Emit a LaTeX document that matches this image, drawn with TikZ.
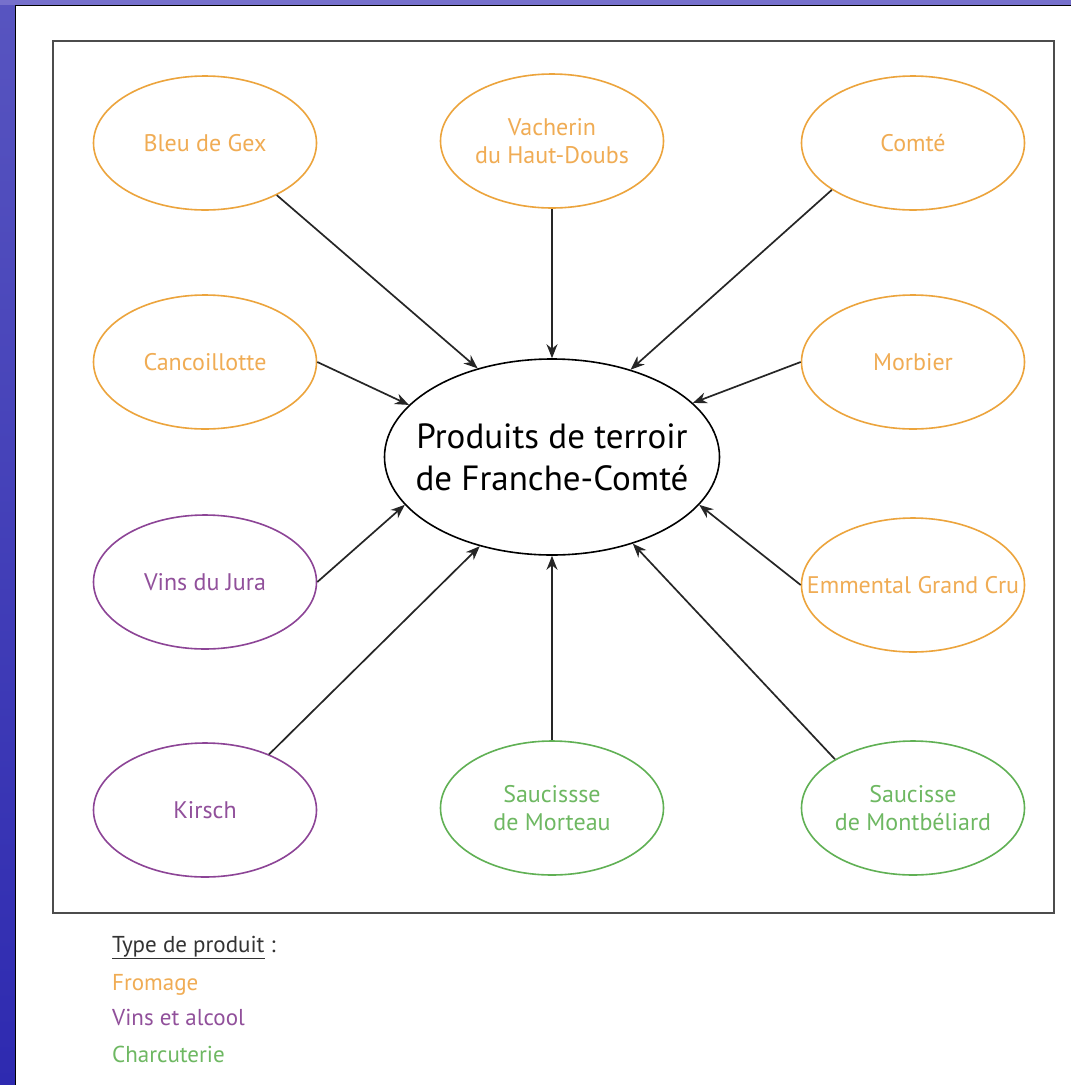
\documentclass[tikz,border=0pt]{standalone}
\usepackage{fontspec}
\setmainfont{PT Sans}
\usetikzlibrary{shapes.geometric,arrows.meta}
\definecolor{froline}{RGB}{236,164,60}
\definecolor{frotxt}{RGB}{240,172,84}
\definecolor{vinline}{RGB}{140,68,150}
\definecolor{vintxt}{RGB}{145,80,155}
\definecolor{chaline}{RGB}{96,176,84}
\definecolor{chatxt}{RGB}{110,184,98}
\definecolor{bgblue}{RGB}{46,42,176}
\definecolor{bgtop}{RGB}{118,112,204}
\tikzset{
  oval/.style={ellipse, minimum width=223pt, minimum height=134pt, inner sep=0pt, line width=1.6pt},
  froval/.style={oval, draw=froline},
  vinoval/.style={oval, draw=vinline},
  chaoval/.style={oval, draw=chaline},
  lab/.style={font=\fontsize{24}{28}\selectfont, align=center, inner sep=0pt},
  frolab/.style={lab, text=frotxt},
  vinlab/.style={lab, text=vintxt},
  chalab/.style={lab, text=chatxt},
  legend/.style={font=\fontsize{23}{26}\selectfont, anchor=base west, inner sep=0pt},
  arr/.style={-{Stealth[length=14pt,width=11pt]}, line width=1.7pt, draw=black!85},
}
\begin{document}
\begin{tikzpicture}[x=1pt,y=-1pt]
\useasboundingbox (0,0) rectangle (1071,1085);
% background
\shade[top color=bgblue!80!white, bottom color=bgblue] (0,0) rectangle (1071,1085);
\fill[bgtop] (0,0) rectangle (1071,5);
\draw[fill=white, line width=1.5pt, draw=black] (15.5,5.5) rectangle (1085,1100);
% inner frame
\draw[line width=2pt, draw=black!70] (53,41) rectangle (1054,913);

% central node
\node[ellipse, draw=black, line width=1.6pt, minimum width=335pt, minimum height=196pt, inner sep=0pt] (c) at (552,457) {};
\node[font=\fontsize{35}{42}\selectfont, align=center, inner sep=0pt] (cT) at (552,457) {Produits de terroir\\de Franche-Comté};

% outer nodes
\node[froval] (bleu) at (205,143) {};
\node[frolab] (bleuT) at (bleu.center) {Bleu de Gex};
\node[froval] (vach) at (552,141) {};
\node[frolab] (vachT) at (vach.center) {Vacherin\\du Haut-Doubs};
\node[froval] (comte) at (913,143) {};
\node[frolab] (comteT) at (comte.center) {Comté};
\node[froval] (canc) at (205,362) {};
\node[frolab] (cancT) at (canc.center) {Cancoillotte};
\node[froval] (morb) at (913,362) {};
\node[frolab] (morbT) at (morb.center) {Morbier};
\node[vinoval] (vins) at (205,582) {};
\node[vinlab] (vinsT) at (vins.center) {Vins du Jura};
\node[froval] (emm) at (913,585) {};
\node[frolab] (emmT) at (emm.center) {Emmental Grand Cru};
\node[vinoval] (kir) at (205,810) {};
\node[vinlab] (kirT) at (kir.center) {Kirsch};
\node[chaoval] (mort) at (552,808) {};
\node[chalab] (mortT) at (mort.center) {Saucissse\\de Morteau};
\node[chaoval] (mont) at (913,808) {};
\node[chalab] (montT) at (mont.center) {Saucisse\\de Montbéliard};

% arrows
\draw[arr] (bleu.-36) -- (c.130);
\draw[arr] (vach.south) -- (c.north);
\draw[arr] (comte.-150) -- (c.48);
\draw[arr] (canc.east) -- (c.160);
\draw[arr] (morb.west) -- (c.21);
\draw[arr] (vins.east) -- (c.-162);
\draw[arr] (emm.west) -- (c.-18);
\draw[arr] (kir.41) -- (c.-129);
\draw[arr] (mort.north) -- (c.south);
\draw[arr] (mont.148) -- (c.-47);

% legend
\node[legend, text=black!80] (leg0) at (112,952) {\underline{Type de produit} :};
\node[legend, text=frotxt] (leg1) at (112,990) {Fromage};
\node[legend, text=vintxt] (leg2) at (112,1025) {Vins et alcool};
\node[legend, text=chatxt] (leg3) at (112,1062) {Charcuterie};
\end{tikzpicture}
\end{document}
